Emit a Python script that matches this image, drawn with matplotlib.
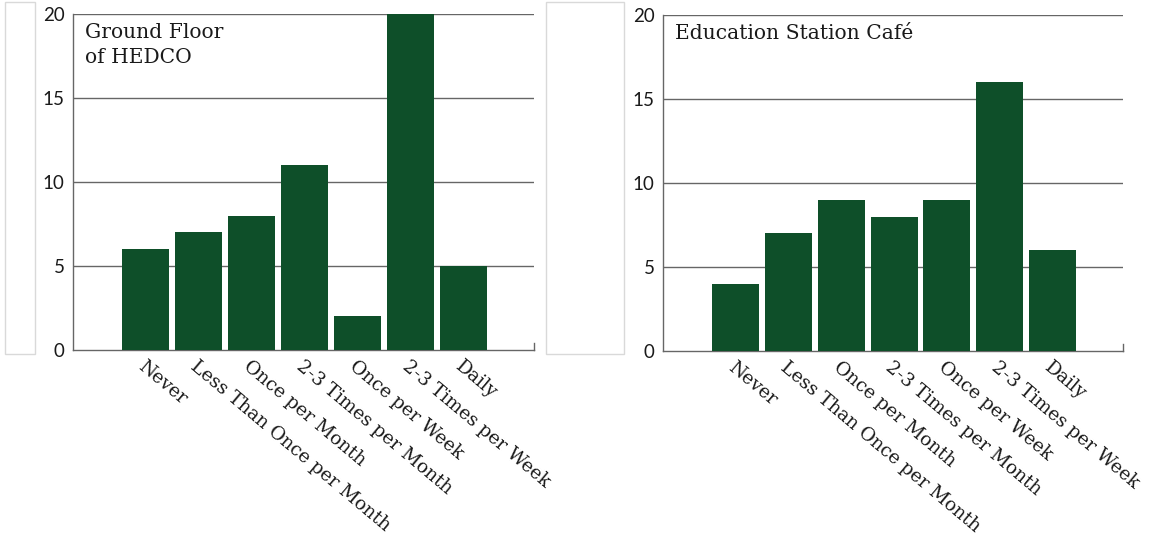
import matplotlib
matplotlib.use("Agg")
import matplotlib.pyplot as plt
from matplotlib.patches import Rectangle
from matplotlib.lines import Line2D

categories = ["Never", "Less Than Once per Month", "Once per Month",
              "2-3 Times per Month", "Once per Week", "2-3 Times per Week", "Daily"]
hedco_values = [6, 7, 8, 11, 2, 20, 5]
cafe_values = [4, 7, 9, 8, 9, 16, 6]
titles = ["Ground Floor\nof HEDCO", "Education Station Café"]
yticks = [0, 5, 10, 15, 20]

W, H = 1150, 539
fig = plt.figure(figsize=(W / 100, H / 100), dpi=100)
fig.patch.set_facecolor("white")

# light frame remnants
for (x0, x1) in [(5, 35), (546, 624)]:
    fig.add_artist(Rectangle((x0 / W, 1 - 354 / H), (x1 - x0) / W, (354 - 2) / H,
                             transform=fig.transFigure, fill=False,
                             edgecolor="#d9d9d9", linewidth=1.0))

axes_px = [(73, 534, 14, 350), (663, 1123, 15, 351)]
bar_color = "#0e4f29"
grid_color = "#666666"
text_color = "#1a1a1a"

for (x0, x1, yt, yb), vals, title in zip(axes_px, [hedco_values, cafe_values], titles):
    ax = fig.add_axes([x0 / W, 1 - yb / H, (x1 - x0) / W, (yb - yt) / H])
    xs = list(range(len(categories)))
    ax.bar(xs, vals, width=0.89, color=bar_color, edgecolor="none", zorder=3)
    ax.set_xlim(-1.38, 7.34)
    ax.set_ylim(0, 20)
    ax.set_yticks(yticks)
    ax.set_yticklabels([str(t) for t in yticks], fontfamily="Lato", fontsize=13.5, color=text_color)
    ax.tick_params(axis="y", length=0, pad=6)
    ax.tick_params(axis="x", length=0, pad=5)
    for t in yticks[1:]:
        ax.axhline(t, color=grid_color, linewidth=1.0, zorder=1)
    ax.set_xticks(xs)
    ax.set_xticklabels(categories, rotation=-40, ha="left", va="top",
                       rotation_mode="anchor", fontfamily="DejaVu Serif",
                       fontsize=13.4, color=text_color)
    for s in ["top", "right"]:
        ax.spines[s].set_visible(False)
    for s in ["left", "bottom"]:
        ax.spines[s].set_color(grid_color)
        ax.spines[s].set_linewidth(1.0)
    ax.add_line(Line2D([1, 1], [0, 0.022], transform=ax.transAxes, color=grid_color,
                       linewidth=1.0, clip_on=False))
    ax.text(0.026, 0.972, title, transform=ax.transAxes, ha="left", va="top",
            fontfamily="DejaVu Serif", fontsize=14.6, color=text_color,
            linespacing=1.4, zorder=5)

fig.savefig("out.png", dpi=100, facecolor="white")
